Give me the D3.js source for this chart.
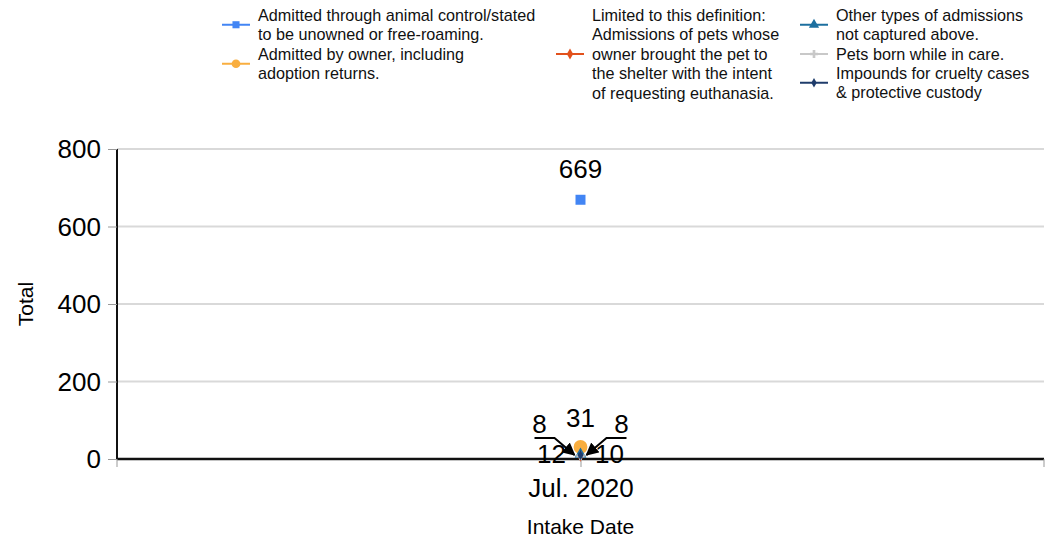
<!DOCTYPE html>
<html><head><meta charset="utf-8">
<script src="https://cdn.jsdelivr.net/npm/d3@7"></script>
<style>body{margin:0;background:#fff}svg{display:block;font-family:Arial,"Liberation Sans",sans-serif}</style>
</head><body>
<svg id="c" width="1048" height="541"></svg>
<script>
const categories = ["Jul. 2020"];
const seriesNames = [
  "Admitted through animal control/stated to be unowned or free-roaming.",
  "Admitted by owner, including adoption returns.",
  "Limited to this definition: Admissions of pets whose owner brought the pet to the shelter with the intent of requesting euthanasia.",
  "Other types of admissions not captured above.",
  "Pets born while in care.",
  "Impounds for cruelty cases & protective custody"
];
const animalControl = [669];
const ownerSurrender = [31];
const euthanasiaRequest = [8];
const otherTypes = [12];
const bornInCare = [8];
const cruelty = [10];
const yTicks = [0, 200, 400, 600, 800];

const colors = ["#4285f4", "#f9ae3f", "#e2511c", "#1c6f9f", "#c8c8c8", "#1f3c6b"];
const symbols = [d3.symbolSquare, d3.symbolCircle, d3.symbolDiamond, d3.symbolTriangle, d3.symbolCross, d3.symbolDiamond];
const values = [animalControl, ownerSurrender, euthanasiaRequest, otherTypes, bornInCare, cruelty];
const FF = "Arial,'Liberation Sans',sans-serif";

const svg = d3.select("#c");
const L = 117, R = 1044, T = 149, B = 459;
const x = d3.scalePoint().domain(categories).range([L, R]).padding(0.5);
const y = d3.scaleLinear().domain([0, 800]).range([B, T]);

// gridlines
svg.append("g").selectAll("line").data(yTicks.filter(d => d > 0)).join("line")
  .attr("x1", L).attr("x2", R).attr("y1", d => y(d)).attr("y2", d => y(d))
  .attr("stroke", "#d9d9d9").attr("stroke-width", 2);

// y axis
const ya = svg.append("g").attr("transform", `translate(${L},0)`)
  .call(d3.axisLeft(y).tickValues(yTicks).tickSize(9).tickPadding(7));
ya.select(".domain").attr("stroke", "#111").attr("stroke-width", 2).attr("d", `M0,${T}V${B}`);
ya.selectAll(".tick line").attr("stroke", "#999");
ya.selectAll(".tick text").attr("font-size", 26).attr("fill", "#000").attr("font-family", FF).attr("dy", "0.34em");

// x axis
const xa = svg.append("g").attr("transform", `translate(0,${B})`)
  .call(d3.axisBottom(x).tickSize(8).tickPadding(12));
xa.select(".domain").attr("stroke", "#111").attr("stroke-width", 2.5).attr("d", `M${L},0H${R}`);
xa.selectAll(".tick line").attr("stroke", "#999").attr("y1", -3);
xa.selectAll(".tick text").attr("font-size", 26).attr("fill", "#000").attr("font-family", FF);
[L, R].forEach(v => xa.append("line").attr("x1", v).attr("x2", v).attr("y1", 0).attr("y2", 8).attr("stroke", "#999"));

// axis titles
svg.append("text").attr("x", x(categories[0])).attr("y", 534).attr("text-anchor", "middle")
  .attr("font-size", 21).text("Intake Date");
svg.append("text").attr("transform", `translate(33,${(T + B) / 2}) rotate(-90)`).attr("text-anchor", "middle")
  .attr("font-size", 21).text("Total");

// arrow marker
const defs = svg.append("defs");
defs.append("marker").attr("id", "ah").attr("viewBox", "0 0 10 10").attr("refX", 9).attr("refY", 5)
  .attr("markerWidth", 6.5).attr("markerHeight", 6.5).attr("orient", "auto")
  .append("path").attr("d", "M0,0L10,5L0,10z").attr("fill", "#000");

// points
const cx = x(categories[0]);
const pts = svg.append("g");
const sizes = [100, 150, 40, 60, 40, 30];
values.forEach((arr, i) => {
  pts.selectAll(null).data(arr).join("path")
    .attr("transform", (d, j) => `translate(${x(categories[j])},${y(d)})`)
    .attr("d", d3.symbol(symbols[i], sizes[i])())
    .attr("fill", colors[i]);
});

// labels for main points
svg.append("text").attr("x", cx).attr("y", y(animalControl[0]) - 22).attr("text-anchor", "middle")
  .attr("font-size", 26).text(animalControl[0]);
svg.append("text").attr("x", cx).attr("y", y(ownerSurrender[0]) - 20).attr("text-anchor", "middle")
  .attr("font-size", 26).text(ownerSurrender[0]);

// callout labels for small values
const callouts = [
  {v: euthanasiaRequest[0], side: -1, pos: "top"},
  {v: otherTypes[0], side: -1, pos: "bottom"},
  {v: bornInCare[0], side: 1, pos: "top"},
  {v: cruelty[0], side: 1, pos: "bottom"}
];
const g = svg.append("g");
[-1, 1].forEach(s => {
  const yl = B - 21;
  g.append("path").attr("d", `M${cx + s * 46},${yl}H${cx + s * 26}L${cx + s * 6},${B - 4}`)
    .attr("fill", "none").attr("stroke", "#000").attr("stroke-width", 2).attr("marker-end", "url(#ah)");
});
callouts.forEach(c => {
  g.append("text")
    .attr("x", cx + c.side * (c.pos === "top" ? 41 : 29))
    .attr("y", c.pos === "top" ? B - 26 : B + 4)
    .attr("text-anchor", "middle").attr("font-size", 26).text(c.v);
});

// legend
const legend = [
  {i: 0, x: 222, lines: ["Admitted through animal control/stated", "to be unowned or free-roaming."], y0: 15},
  {i: 1, x: 222, lines: ["Admitted by owner, including", "adoption returns."], y0: 54},
  {i: 2, x: 556, lines: ["Limited to this definition:", "Admissions of pets whose", "owner brought the pet to", "the shelter with the intent", "of requesting euthanasia."], y0: 15},
  {i: 3, x: 800, lines: ["Other types of admissions", "not captured above."], y0: 15},
  {i: 4, x: 800, lines: ["Pets born while in care."], y0: 54},
  {i: 5, x: 800, lines: ["Impounds for cruelty cases", "& protective custody"], y0: 73}
];
const lg = svg.append("g");
const lh = 19.5;
const lsizes = [50, 60, 35, 45, 35, 25];
legend.forEach(e => {
  const n = e.lines.length;
  const sy = e.y0 + (n - 1) * lh / 2;
  lg.append("line").attr("x1", e.x).attr("x2", e.x + 28).attr("y1", sy).attr("y2", sy)
    .attr("stroke", colors[e.i]).attr("stroke-width", 2);
  lg.append("path").attr("transform", `translate(${e.x + 14},${sy})`)
    .attr("d", d3.symbol(symbols[e.i], lsizes[e.i])()).attr("fill", colors[e.i]);
  const t = lg.append("text").attr("x", e.x + 36).attr("y", e.y0 + 5.5).attr("font-size", 16.2).attr("fill", "#111");
  e.lines.forEach((l, k) => t.append("tspan").attr("x", e.x + 36).attr("y", e.y0 + 5.5 + k * lh).text(l));
});
</script>
</body></html>
